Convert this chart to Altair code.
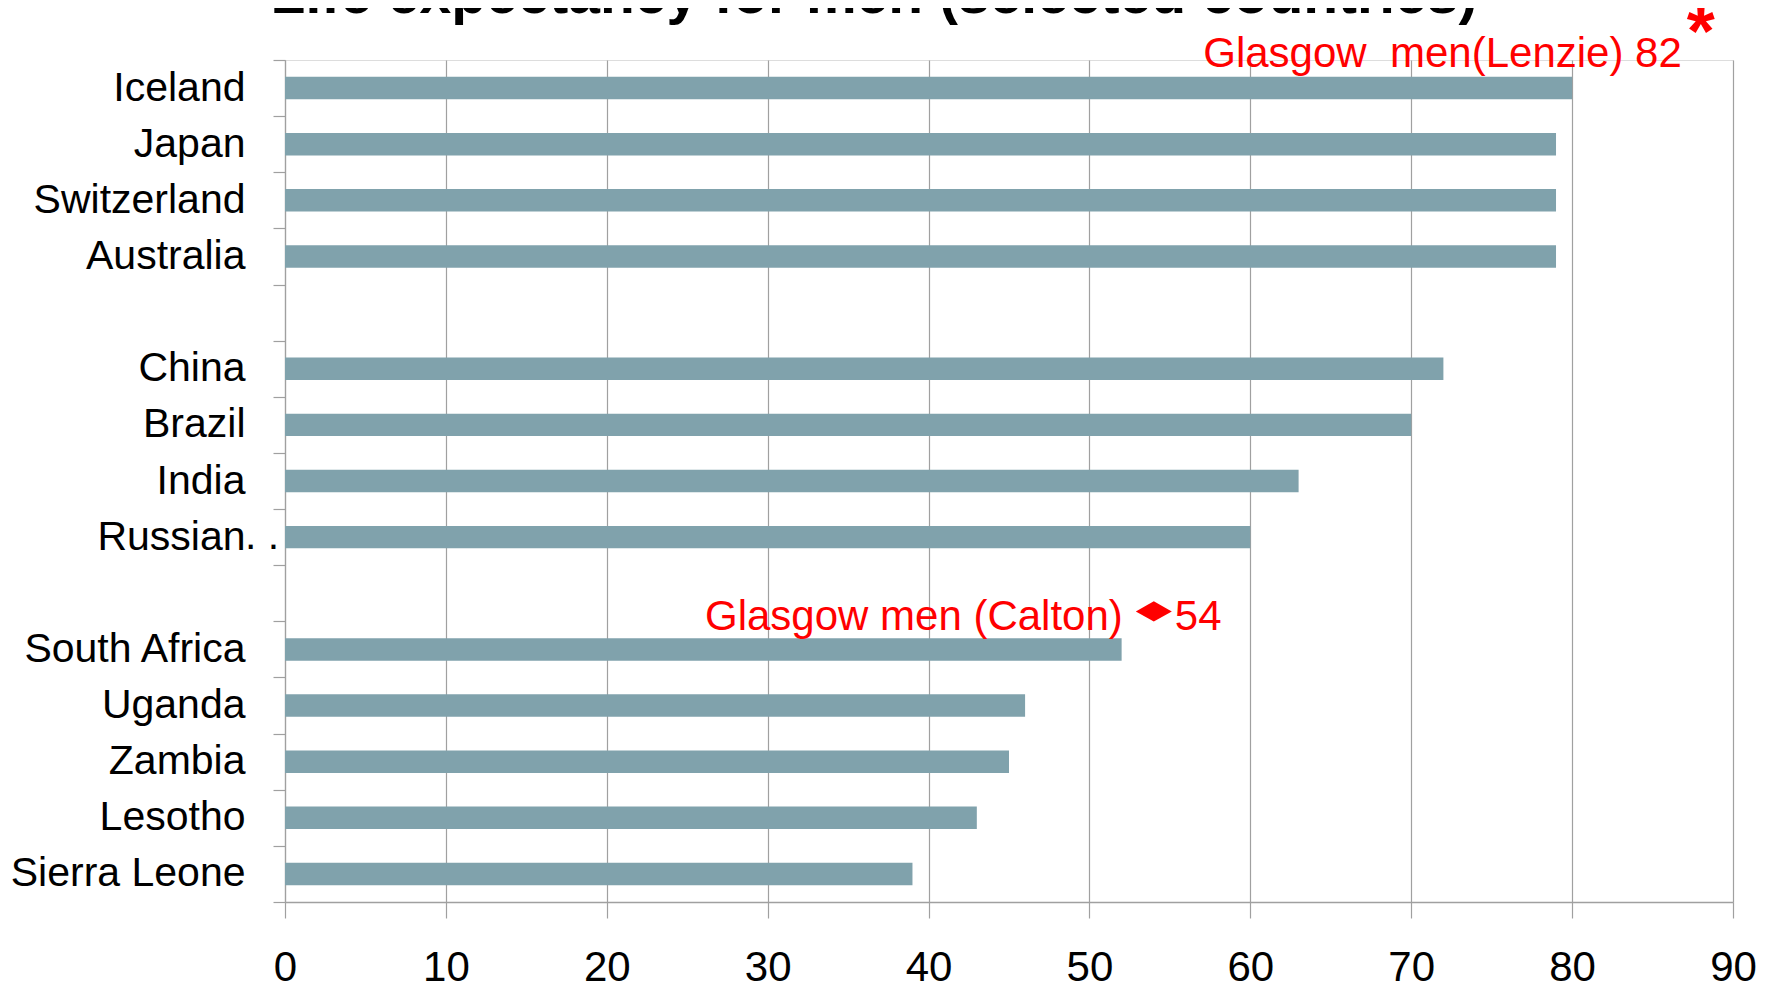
import altair as alt
import pandas as pd

# ---- data ----
categories = ["Iceland", "Japan", "Switzerland", "Australia", " ",
              "China", "Brazil", "India", "Russian Federation", "  ",
              "South Africa", "Uganda", "Zambia", "Lesotho", "Sierra Leone"]
countries = ["Iceland", "Japan", "Switzerland", "Australia",
             "China", "Brazil", "India", "Russian Federation",
             "South Africa", "Uganda", "Zambia", "Lesotho", "Sierra Leone"]
life_expectancy = [80, 79, 79, 79, 72, 70, 63, 60, 52, 46, 45, 43, 39]
x_ticks = [0, 10, 20, 30, 40, 50, 60, 70, 80, 90]

title_text = "Life expectancy for men (selected countries)"
calton_label = "Glasgow men (Calton)"
calton_value = 54
calton_row = "South Africa"
lenzie_label = "Glasgow\u00a0 men(Lenzie)"
lenzie_value = 82
lenzie_marker_x = 88
lenzie_row = "Iceland"
truncated_row = "Russian Federation"

FONT = "Liberation Sans"
BAR = "#80A2AC"
GRID = "#a0a0a0"
RED = "#FF0000"

bars_df = pd.DataFrame({"country": countries, "value": life_expectancy})
calton_df = pd.DataFrame({"country": [calton_row], "value": [calton_value],
                          "label": [calton_label], "num": [str(calton_value)]})
lenzie_df = pd.DataFrame({"country": [lenzie_row], "value": [lenzie_marker_x],
                          "label": [f"{lenzie_label} {lenzie_value}"], "star": ["*"]})
dots_df = pd.DataFrame({"country": [truncated_row], "value": [0], "t": [". ."]})

xscale = alt.Scale(domain=[0, 90], nice=False, zero=True)
yscale = alt.Scale(domain=categories, paddingInner=0, paddingOuter=0)

x_axis = alt.Axis(values=x_ticks, grid=True, gridColor=GRID, gridWidth=1.2,
                  tickColor=GRID, tickWidth=1.2, tickSize=16, domainColor=GRID, domainWidth=1.4,
                  labelFontSize=42, labelPadding=29, labelColor="black", labelFont=FONT,
                  labelFlush=False, labelOverlap=False, labelBound=False, title=None)
y_axis = alt.Axis(title=None, tickBand="extent", ticks=True, tickSize=12, tickColor=GRID,
                  tickWidth=1.2, domainColor=GRID, domainWidth=1.2,
                  labelFontSize=41, labelPadding=28, labelColor="black",
                  labelFont=FONT, labelLimit=0, grid=False,
                  labelExpr=f"datum.label == '{truncated_row}' ? 'Russian' : datum.label")

bars = alt.Chart(bars_df).mark_bar(color=BAR, height=alt.RelativeBandSize(0.4)).encode(
    x=alt.X("value:Q", scale=xscale, axis=x_axis),
    y=alt.Y("country:N", scale=yscale, axis=y_axis, sort=categories),
)

ann_x = alt.X("value:Q", scale=xscale)
ann_y = alt.Y("country:N", scale=yscale, sort=categories)

dots = alt.Chart(dots_df).mark_text(
    align="left", baseline="middle", dx=-40, fontSize=41, font=FONT,
    color="black").encode(x=ann_x, y=ann_y, text="t:N")

calton_marker = alt.Chart(calton_df).mark_point(
    shape="M-1,0L0,-0.56L1,0L0,0.56Z", size=1296, filled=True, color=RED,
    opacity=1, yOffset=-38).encode(x=ann_x, y=ann_y)
calton_text = alt.Chart(calton_df).mark_text(
    align="right", baseline="alphabetic", dx=-31, dy=-19.6, fontSize=42,
    font=FONT, color=RED).encode(x=ann_x, y=ann_y, text="label:N")
calton_num = alt.Chart(calton_df).mark_text(
    align="left", baseline="alphabetic", dx=21, dy=-19.6, fontSize=42,
    font=FONT, color=RED).encode(x=ann_x, y=ann_y, text="num:N")

lenzie_text = alt.Chart(lenzie_df).mark_text(
    align="right", baseline="alphabetic", dx=-19, dy=-21.4, fontSize=42,
    font=FONT, color=RED).encode(x=ann_x, y=ann_y, text="label:N")
lenzie_star = alt.Chart(lenzie_df).mark_text(
    align="center", baseline="alphabetic", dy=-31.6, fontSize=72, fontWeight="bold",
    font=FONT, color=RED).encode(x=ann_x, y=ann_y, text="star:N")

title = alt.Chart(pd.DataFrame({"t": [title_text]})).mark_text(
    align="center", baseline="alphabetic", fontSize=57, fontWeight="bold",
    font=FONT, color="black").encode(x=alt.value(589), y=alt.value(-47), text="t:N")

chart = alt.layer(bars, dots, calton_marker, calton_text, calton_num,
                  lenzie_text, lenzie_star, title).properties(
    width=1448, height=842,
    padding={"left": 277, "top": 52, "right": 30, "bottom": 83},
    autosize=alt.AutoSizeParams(type="none"),
).configure_view(stroke=None).configure(background="white")

chart.save("out.html", embed_options={"renderer": "svg", "actions": False})
